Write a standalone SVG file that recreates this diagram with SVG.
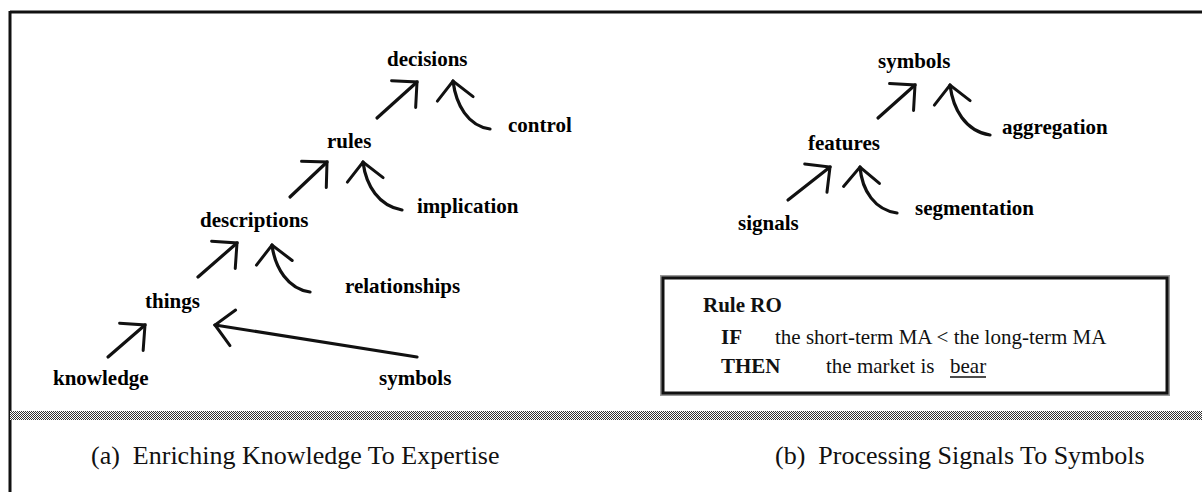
<svg xmlns="http://www.w3.org/2000/svg" width="1202" height="492" viewBox="0 0 1202 492">
  <defs>
    <style>
      .lbl { font-family: "Liberation Serif", "Times New Roman", serif; font-weight: bold; font-size: 21px; fill: #000; }
      .cap { font-family: "Liberation Serif", "Times New Roman", serif; font-size: 26px; fill: #111; white-space: pre; }
      .rule { font-family: "Liberation Serif", "Times New Roman", serif; font-size: 21px; fill: #111; }
      .rule-kw { font-weight: bold; }
      .shaft { fill: none; stroke: #111; stroke-width: 3.2; stroke-linecap: round; }
      .up { marker-end: url(#head); }
      .curl { marker-start: url(#head); }
      .frame { fill: none; stroke: #111; stroke-width: 3; }
    </style>
    <!-- open chevron head, arms at 45 degrees either side of the shaft -->
    <marker id="head" markerUnits="userSpaceOnUse" markerWidth="40" markerHeight="40" refX="0" refY="0" orient="auto-start-reverse" overflow="visible">
      <path d="M -18 -18 L 0 0 L -18 18" fill="none" stroke="#111" stroke-width="3" stroke-linecap="round" stroke-linejoin="miter"/>
    </marker>
    <!-- dithered grey used for the rule line under the panels -->
    <pattern id="dither" width="2" height="2" patternUnits="userSpaceOnUse">
      <rect width="2" height="2" fill="#fff"/>
      <rect width="1" height="1" fill="#333"/>
      <rect x="1" y="1" width="1" height="1" fill="#333"/>
    </pattern>
  </defs>

  <rect width="1202" height="492" fill="#fff"/>

  <!-- outer frame: top and left edges, dithered rule above the captions -->
  <g id="frame">
    <line class="frame" x1="10" y1="12" x2="1202" y2="12"/>
    <line class="frame" x1="10" y1="11" x2="10" y2="492"/>
    <rect x="10" y="411" width="1192" height="9" fill="url(#dither)"/>
  </g>

  <!-- panel (a): enriching knowledge to expertise -->
  <g id="decisions"><text class="lbl" x="387" y="66">decisions</text></g>
  <g id="control"><text class="lbl" x="508" y="132">control</text></g>
  <g id="rules"><text class="lbl" x="327" y="148">rules</text></g>
  <g id="implication"><text class="lbl" x="417" y="213">implication</text></g>
  <g id="descriptions"><text class="lbl" x="200" y="227">descriptions</text></g>
  <g id="relationships"><text class="lbl" x="345" y="293">relationships</text></g>
  <g id="things"><text class="lbl" x="145" y="308">things</text></g>
  <g id="knowledge"><text class="lbl" x="53" y="385">knowledge</text></g>
  <g id="symbols-a"><text class="lbl" x="379" y="385">symbols</text></g>

  <!-- panel (b): processing signals to symbols -->
  <g id="symbols-b"><text class="lbl" x="878" y="68">symbols</text></g>
  <g id="aggregation"><text class="lbl" x="1002" y="134">aggregation</text></g>
  <g id="features"><text class="lbl" x="808" y="150">features</text></g>
  <g id="segmentation"><text class="lbl" x="915" y="215">segmentation</text></g>
  <g id="signals"><text class="lbl" x="738" y="230">signals</text></g>

  <!-- rule box -->
  <g id="rule-ro">
    <rect x="663" y="278" width="504" height="115" fill="#fff" stroke="#999" stroke-width="6"/>
    <rect x="663" y="278" width="504" height="115" fill="#fff" stroke="#111" stroke-width="3"/>
    <text class="rule rule-kw" x="703" y="312">Rule RO</text>
    <text class="rule rule-kw" x="721" y="344">IF</text>
    <text class="rule" x="775" y="344">the short-term MA &lt; the long-term MA</text>
    <text class="rule rule-kw" x="721" y="373">THEN</text>
    <text class="rule" x="826" y="373">the market is</text>
    <text class="rule" x="950" y="373">bear</text>
    <line x1="950" y1="377" x2="986" y2="377" stroke="#111" stroke-width="1.3"/>
  </g>

  <!-- connectors -->
  <g id="connectors">
    <path class="shaft up" d="M 377 118 L 417 82"/>
    <path class="shaft curl" d="M 453 81 C 456 105, 468 126, 490 129"/>
    <path class="shaft up" d="M 290 197 L 327 162"/>
    <path class="shaft curl" d="M 363 162 C 366 186, 379 206, 402 210"/>
    <path class="shaft up" d="M 198 277 L 237 243"/>
    <path class="shaft curl" d="M 272 245 C 275 268, 288 289, 310 292"/>
    <path class="shaft up" d="M 108 357 L 145 325"/>
    <path class="shaft up" d="M 417 357 L 215 325"/>
    <path class="shaft up" d="M 878 118 L 915 85"/>
    <path class="shaft curl" d="M 950 85 C 953 109, 965 131, 990 135"/>
    <path class="shaft up" d="M 788 200 L 830 167"/>
    <path class="shaft curl" d="M 860 167 C 862 191, 875 210, 897 213"/>
  </g>

  <!-- captions -->
  <g id="caption-a"><text class="cap" x="91" y="464">(a)  Enriching Knowledge To Expertise</text></g>
  <g id="caption-b"><text class="cap" x="775" y="464">(b)  Processing Signals To Symbols</text></g>
</svg>
